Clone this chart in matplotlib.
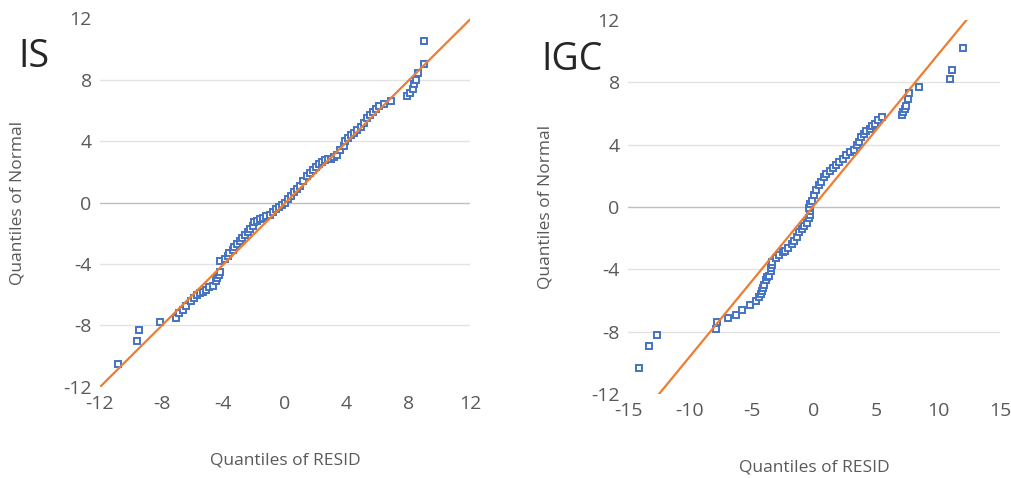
import matplotlib.pyplot as plt

# Панель IS: точки квантилів (RESID, Normal)
is_x = [-10.8, -9.6, -9.5, -8.1, -7.1, -6.9, -6.6, -6.4, -6.1, -5.9, -5.7, -5.5, -5.3, -5.1,
        -4.9, -4.7, -4.5, -4.4, -4.3, -4.2, -4.2, -3.9, -3.7, -3.6, -3.4, -3.3, -3.1, -2.9,
        -2.8, -2.6, -2.4, -2.3, -2.1, -2.0, -1.8, -1.6, -1.4, -1.2, -1.0, -0.8, -0.6, -0.4,
        -0.2, 0.0, 0.2, 0.4, 0.6, 0.8, 1.0, 1.2, 1.4, 1.6, 1.8, 2.0, 2.2, 2.4, 2.6, 2.8,
        3.0, 3.2, 3.4, 3.6, 3.8, 3.9, 4.1, 4.3, 4.5, 4.7, 4.9, 5.1, 5.3, 5.5, 5.7, 5.9,
        6.1, 6.4, 6.9, 7.9, 8.1, 8.3, 8.4, 8.5, 8.6, 9.0, 9.0]
is_y = [-10.5, -9.0, -8.3, -7.8, -7.5, -7.2, -7.0, -6.7, -6.4, -6.2, -6.0, -5.9, -5.8, -5.7,
        -5.5, -5.4, -5.1, -4.9, -4.7, -4.5, -3.8, -3.7, -3.5, -3.3, -3.1, -2.9, -2.7, -2.5,
        -2.3, -2.1, -1.9, -1.7, -1.5, -1.3, -1.2, -1.1, -1.0, -0.9, -0.8, -0.6, -0.45, -0.3,
        -0.15, 0.0, 0.2, 0.45, 0.7, 0.9, 1.1, 1.4, 1.7, 1.9, 2.1, 2.3, 2.5, 2.65, 2.75, 2.8,
        2.85, 2.95, 3.1, 3.4, 3.7, 4.0, 4.2, 4.4, 4.5, 4.7, 4.9, 5.2, 5.5, 5.7, 5.9, 6.1,
        6.3, 6.4, 6.6, 6.9, 7.1, 7.4, 7.7, 8.0, 8.4, 9.0, 10.5]
is_line_x = [-12, 12]
is_line_y = [-12, 11.9]

# Панель IGC
igc_x = [-14.1, -13.3, -12.7, -7.9, -7.8, -6.9, -6.3, -5.8, -5.2, -4.7, -4.4, -4.3, -4.2,
         -4.1, -4.0, -3.9, -3.8, -3.6, -3.5, -3.5, -3.4, -3.4, -3.1, -2.8, -2.5, -2.3, -2.1,
         -1.8, -1.6, -1.4, -1.2, -1.0, -0.8, -0.6, -0.4, -0.3, -0.35, -0.4, -0.3, -0.2, 0.0,
         0.2, 0.4, 0.6, 0.8, 1.0, 1.3, 1.5, 1.8, 2.0, 2.3, 2.6, 2.9, 3.2, 3.5, 3.6, 3.8,
         4.0, 4.2, 4.5, 4.7, 4.9, 5.2, 5.5, 7.1, 7.2, 7.3, 7.4, 7.6, 7.7, 8.5, 11.0, 11.1, 12.0]
igc_y = [-10.3, -8.9, -8.2, -7.8, -7.4, -7.1, -6.9, -6.6, -6.3, -6.0, -5.8, -5.6, -5.4,
         -5.2, -5.0, -4.7, -4.5, -4.4, -4.1, -3.9, -3.7, -3.5, -3.3, -3.1, -2.9, -2.8, -2.6,
         -2.4, -2.2, -1.9, -1.6, -1.4, -1.2, -1.0, -0.7, -0.5, -0.25, -0.05, 0.2, 0.4, 0.8,
         1.1, 1.4, 1.6, 1.9, 2.1, 2.3, 2.5, 2.7, 2.9, 3.1, 3.35, 3.5, 3.65, 4.0, 4.2, 4.5,
         4.7, 4.85, 5.0, 5.2, 5.3, 5.6, 5.8, 5.9, 6.1, 6.3, 6.5, 6.9, 7.3, 7.7, 8.2, 8.8, 10.2]
igc_line_x = [-12.5, 12.3]
igc_line_y = [-12, 12]

y_ticks = [-12, -8, -4, 0, 4, 8, 12]
is_x_ticks = [-12, -8, -4, 0, 4, 8, 12]
igc_x_ticks = [-15, -10, -5, 0, 5, 10, 15]

BLUE = "#4472C4"
ORANGE = "#ED7D31"
GRAY = "#595959"

plt.rcParams['font.family'] = ['Open Sans', 'DejaVu Sans']
plt.rcParams['axes.unicode_minus'] = False


def draw_panel(ax, xs, ys, lx, ly, xticks, name, name_xy):
    for t in y_ticks[1:-1]:
        ax.axhline(t, color="#bfbfbf" if t == 0 else "#e3e3e3", lw=1.0, zorder=0)
    ax.plot(xs, ys, linestyle="none", marker="s", markersize=3.8,
            markerfacecolor="white", markeredgecolor=BLUE, markeredgewidth=1.4, zorder=2)
    ax.plot(lx, ly, color=ORANGE, lw=1.6, zorder=3)
    ax.set_xlim(xticks[0], xticks[-1])
    ax.set_ylim(y_ticks[0], y_ticks[-1])
    ax.set_xticks(xticks)
    ax.set_yticks(y_ticks)
    ax.tick_params(length=0, labelsize=14, labelcolor=GRAY, pad=6)
    for s in ax.spines.values():
        s.set_visible(False)
    ax.set_xlabel("Quantiles of RESID", fontsize=12.5, color=GRAY, labelpad=28)
    ax.set_ylabel("Quantiles of Normal", fontsize=12.5, color=GRAY, labelpad=27)
    ax.figure.text(name_xy[0], name_xy[1], name, fontsize=27, color="#262626",
                   ha="left", va="center")


fig = plt.figure(figsize=(10.12, 4.78), dpi=100)
ax1 = fig.add_axes([0.0988, 0.1904, 0.3656, 0.7719])
ax2 = fig.add_axes([0.6206, 0.1757, 0.3675, 0.7825])

draw_panel(ax1, is_x, is_y, is_line_x, is_line_y, is_x_ticks, "IS", (0.018, 0.88))
draw_panel(ax2, igc_x, igc_y, igc_line_x, igc_line_y, igc_x_ticks, "IGC", (0.535, 0.875))

fig.savefig("out.png", dpi=100)
